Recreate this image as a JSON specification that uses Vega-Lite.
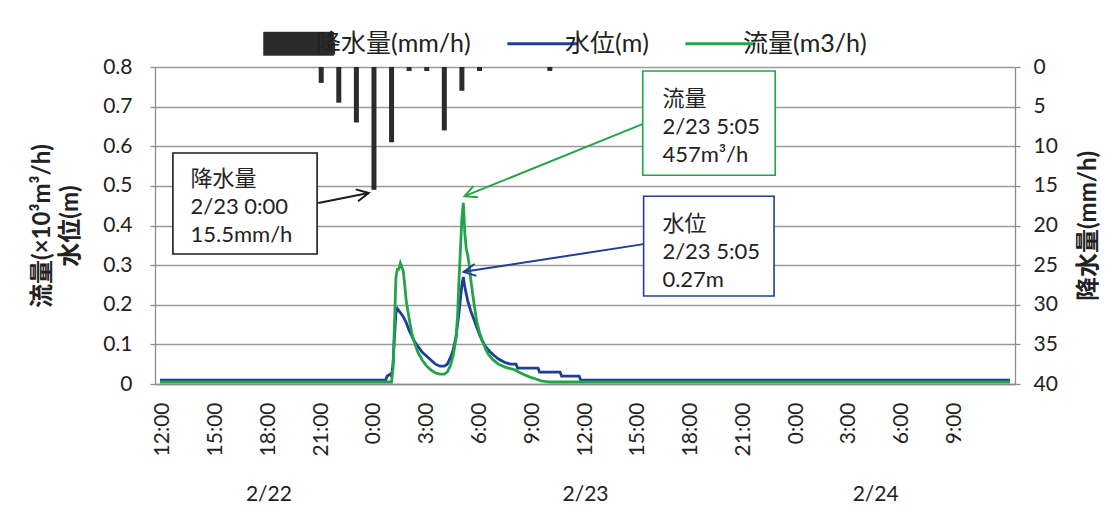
{
  "$schema": "https://vega.github.io/schema/vega-lite/v6.json",
  "width": 860,
  "height": 317,
  "autosize": {"type": "none"},
  "padding": {"left": 155, "top": 67, "right": 93, "bottom": 125},
  "background": "white",
  "config": {
    "view": {"stroke": null},
    "font": "Lato, 'Noto Sans CJK JP', sans-serif",
    "axis": {
      "labelFont": "Lato, 'Noto Sans CJK JP', sans-serif",
      "labelFontSize": 21,
      "labelColor": "#222222",
      "titleFont": "Lato, 'Noto Sans CJK JP', sans-serif",
      "titleFontSize": 24,
      "titleColor": "#222222",
      "domainColor": "#8c8c8c",
      "domainWidth": 1.3,
      "tickColor": "#8c8c8c",
      "tickWidth": 1.3,
      "gridColor": "#9a9a9a",
      "gridWidth": 1.3,
      "labelFlush": false,
      "labelOverlap": false,
      "labelBound": false
    },
    "text": {"font": "Lato, 'Noto Sans CJK JP', sans-serif"}
  },
  "datasets": {
    "rain": [
      {"t": "2020-02-22T21:00", "series": "降水量(mm/h)", "mm": 2},
      {"t": "2020-02-22T22:00", "series": "降水量(mm/h)", "mm": 4.5},
      {"t": "2020-02-22T23:00", "series": "降水量(mm/h)", "mm": 7},
      {"t": "2020-02-23T00:00", "series": "降水量(mm/h)", "mm": 15.5},
      {"t": "2020-02-23T01:00", "series": "降水量(mm/h)", "mm": 9.5},
      {"t": "2020-02-23T02:00", "series": "降水量(mm/h)", "mm": 0.5},
      {"t": "2020-02-23T03:00", "series": "降水量(mm/h)", "mm": 0.5},
      {"t": "2020-02-23T04:00", "series": "降水量(mm/h)", "mm": 8},
      {"t": "2020-02-23T05:00", "series": "降水量(mm/h)", "mm": 3},
      {"t": "2020-02-23T06:00", "series": "降水量(mm/h)", "mm": 0.5},
      {"t": "2020-02-23T10:00", "series": "降水量(mm/h)", "mm": 0.5}
    ],
    "hydro": [
      {"t": "2020-02-22T11:50", "series": "水位(m)", "v": 0.01},
      {"t": "2020-02-23T00:40", "series": "水位(m)", "v": 0.01},
      {"t": "2020-02-23T00:45", "series": "水位(m)", "v": 0.02},
      {"t": "2020-02-23T00:55", "series": "水位(m)", "v": 0.025},
      {"t": "2020-02-23T01:00", "series": "水位(m)", "v": 0.02},
      {"t": "2020-02-23T01:05", "series": "水位(m)", "v": 0.05},
      {"t": "2020-02-23T01:10", "series": "水位(m)", "v": 0.12},
      {"t": "2020-02-23T01:15", "series": "水位(m)", "v": 0.18},
      {"t": "2020-02-23T01:20", "series": "水位(m)", "v": 0.19},
      {"t": "2020-02-23T01:30", "series": "水位(m)", "v": 0.18},
      {"t": "2020-02-23T01:40", "series": "水位(m)", "v": 0.17},
      {"t": "2020-02-23T01:50", "series": "水位(m)", "v": 0.155},
      {"t": "2020-02-23T02:00", "series": "水位(m)", "v": 0.135},
      {"t": "2020-02-23T02:10", "series": "水位(m)", "v": 0.12},
      {"t": "2020-02-23T02:20", "series": "水位(m)", "v": 0.105},
      {"t": "2020-02-23T02:30", "series": "水位(m)", "v": 0.095},
      {"t": "2020-02-23T02:45", "series": "水位(m)", "v": 0.08},
      {"t": "2020-02-23T03:00", "series": "水位(m)", "v": 0.07},
      {"t": "2020-02-23T03:15", "series": "水位(m)", "v": 0.06},
      {"t": "2020-02-23T03:30", "series": "水位(m)", "v": 0.05},
      {"t": "2020-02-23T03:45", "series": "水位(m)", "v": 0.045},
      {"t": "2020-02-23T04:00", "series": "水位(m)", "v": 0.045},
      {"t": "2020-02-23T04:10", "series": "水位(m)", "v": 0.05},
      {"t": "2020-02-23T04:20", "series": "水位(m)", "v": 0.065},
      {"t": "2020-02-23T04:30", "series": "水位(m)", "v": 0.085},
      {"t": "2020-02-23T04:40", "series": "水位(m)", "v": 0.12},
      {"t": "2020-02-23T04:50", "series": "水位(m)", "v": 0.18},
      {"t": "2020-02-23T05:00", "series": "水位(m)", "v": 0.25},
      {"t": "2020-02-23T05:05", "series": "水位(m)", "v": 0.27},
      {"t": "2020-02-23T05:10", "series": "水位(m)", "v": 0.245},
      {"t": "2020-02-23T05:20", "series": "水位(m)", "v": 0.21},
      {"t": "2020-02-23T05:30", "series": "水位(m)", "v": 0.185},
      {"t": "2020-02-23T05:40", "series": "水位(m)", "v": 0.165},
      {"t": "2020-02-23T05:50", "series": "水位(m)", "v": 0.145},
      {"t": "2020-02-23T06:00", "series": "水位(m)", "v": 0.125},
      {"t": "2020-02-23T06:10", "series": "水位(m)", "v": 0.108},
      {"t": "2020-02-23T06:20", "series": "水位(m)", "v": 0.095},
      {"t": "2020-02-23T06:35", "series": "水位(m)", "v": 0.082},
      {"t": "2020-02-23T06:50", "series": "水位(m)", "v": 0.072},
      {"t": "2020-02-23T07:05", "series": "水位(m)", "v": 0.063},
      {"t": "2020-02-23T07:25", "series": "水位(m)", "v": 0.055},
      {"t": "2020-02-23T07:45", "series": "水位(m)", "v": 0.05},
      {"t": "2020-02-23T08:05", "series": "水位(m)", "v": 0.05},
      {"t": "2020-02-23T08:10", "series": "水位(m)", "v": 0.04},
      {"t": "2020-02-23T09:20", "series": "水位(m)", "v": 0.04},
      {"t": "2020-02-23T09:25", "series": "水位(m)", "v": 0.03},
      {"t": "2020-02-23T10:35", "series": "水位(m)", "v": 0.03},
      {"t": "2020-02-23T10:40", "series": "水位(m)", "v": 0.02},
      {"t": "2020-02-23T11:40", "series": "水位(m)", "v": 0.02},
      {"t": "2020-02-23T11:45", "series": "水位(m)", "v": 0.01},
      {"t": "2020-02-24T12:10", "series": "水位(m)", "v": 0.01},
      {"t": "2020-02-22T11:50", "series": "流量(m3/h)", "v": 0.005},
      {"t": "2020-02-23T01:00", "series": "流量(m3/h)", "v": 0.005},
      {"t": "2020-02-23T01:05", "series": "流量(m3/h)", "v": 0.04},
      {"t": "2020-02-23T01:10", "series": "流量(m3/h)", "v": 0.15},
      {"t": "2020-02-23T01:15", "series": "流量(m3/h)", "v": 0.27},
      {"t": "2020-02-23T01:20", "series": "流量(m3/h)", "v": 0.29},
      {"t": "2020-02-23T01:25", "series": "流量(m3/h)", "v": 0.29},
      {"t": "2020-02-23T01:30", "series": "流量(m3/h)", "v": 0.305},
      {"t": "2020-02-23T01:35", "series": "流量(m3/h)", "v": 0.295},
      {"t": "2020-02-23T01:40", "series": "流量(m3/h)", "v": 0.285},
      {"t": "2020-02-23T01:45", "series": "流量(m3/h)", "v": 0.25},
      {"t": "2020-02-23T01:50", "series": "流量(m3/h)", "v": 0.21},
      {"t": "2020-02-23T02:00", "series": "流量(m3/h)", "v": 0.165},
      {"t": "2020-02-23T02:10", "series": "流量(m3/h)", "v": 0.125},
      {"t": "2020-02-23T02:20", "series": "流量(m3/h)", "v": 0.1},
      {"t": "2020-02-23T02:30", "series": "流量(m3/h)", "v": 0.08},
      {"t": "2020-02-23T02:45", "series": "流量(m3/h)", "v": 0.06},
      {"t": "2020-02-23T03:00", "series": "流量(m3/h)", "v": 0.045},
      {"t": "2020-02-23T03:15", "series": "流量(m3/h)", "v": 0.035},
      {"t": "2020-02-23T03:30", "series": "流量(m3/h)", "v": 0.028},
      {"t": "2020-02-23T03:45", "series": "流量(m3/h)", "v": 0.025},
      {"t": "2020-02-23T04:00", "series": "流量(m3/h)", "v": 0.025},
      {"t": "2020-02-23T04:10", "series": "流量(m3/h)", "v": 0.03},
      {"t": "2020-02-23T04:20", "series": "流量(m3/h)", "v": 0.045},
      {"t": "2020-02-23T04:30", "series": "流量(m3/h)", "v": 0.07},
      {"t": "2020-02-23T04:40", "series": "流量(m3/h)", "v": 0.115},
      {"t": "2020-02-23T04:45", "series": "流量(m3/h)", "v": 0.17},
      {"t": "2020-02-23T04:50", "series": "流量(m3/h)", "v": 0.26},
      {"t": "2020-02-23T04:55", "series": "流量(m3/h)", "v": 0.34},
      {"t": "2020-02-23T05:00", "series": "流量(m3/h)", "v": 0.42},
      {"t": "2020-02-23T05:05", "series": "流量(m3/h)", "v": 0.457},
      {"t": "2020-02-23T05:10", "series": "流量(m3/h)", "v": 0.38},
      {"t": "2020-02-23T05:15", "series": "流量(m3/h)", "v": 0.34},
      {"t": "2020-02-23T05:20", "series": "流量(m3/h)", "v": 0.325},
      {"t": "2020-02-23T05:25", "series": "流量(m3/h)", "v": 0.3},
      {"t": "2020-02-23T05:30", "series": "流量(m3/h)", "v": 0.265},
      {"t": "2020-02-23T05:40", "series": "流量(m3/h)", "v": 0.21},
      {"t": "2020-02-23T05:50", "series": "流量(m3/h)", "v": 0.16},
      {"t": "2020-02-23T06:00", "series": "流量(m3/h)", "v": 0.13},
      {"t": "2020-02-23T06:10", "series": "流量(m3/h)", "v": 0.11},
      {"t": "2020-02-23T06:20", "series": "流量(m3/h)", "v": 0.09},
      {"t": "2020-02-23T06:30", "series": "流量(m3/h)", "v": 0.075},
      {"t": "2020-02-23T06:45", "series": "流量(m3/h)", "v": 0.062},
      {"t": "2020-02-23T07:05", "series": "流量(m3/h)", "v": 0.05},
      {"t": "2020-02-23T07:30", "series": "流量(m3/h)", "v": 0.042},
      {"t": "2020-02-23T08:00", "series": "流量(m3/h)", "v": 0.036},
      {"t": "2020-02-23T08:20", "series": "流量(m3/h)", "v": 0.028},
      {"t": "2020-02-23T08:50", "series": "流量(m3/h)", "v": 0.018},
      {"t": "2020-02-23T09:15", "series": "流量(m3/h)", "v": 0.012},
      {"t": "2020-02-23T09:30", "series": "流量(m3/h)", "v": 0.008},
      {"t": "2020-02-23T10:00", "series": "流量(m3/h)", "v": 0.005},
      {"t": "2020-02-24T12:10", "series": "流量(m3/h)", "v": 0.005}
    ],
    "boxes": [
      {"id": "rain", "t1": "2020-02-22T12:34", "t2": "2020-02-22T20:46", "v1": 0.583, "v2": 0.328},
      {"id": "flow", "t1": "2020-02-23T15:17", "t2": "2020-02-23T22:49", "v1": 0.79, "v2": 0.527},
      {"id": "level", "t1": "2020-02-23T15:20", "t2": "2020-02-23T22:45", "v1": 0.474, "v2": 0.222}
    ],
    "notes": [
      {"id": "rain", "t": "2020-02-22T13:34", "v": 0.5, "txt": "降水量\n2/23 0:00\n15.5mm/h"},
      {"id": "flow", "t": "2020-02-23T16:24", "v": 0.702, "txt": "流量\n2/23 5:05\n457m³/h"},
      {"id": "level", "t": "2020-02-23T16:24", "v": 0.386, "txt": "水位\n2/23 5:05\n0.27m"}
    ],
    "arrows": [
      {"id": "rain", "t1": "2020-02-22T20:50", "v1": 0.457, "t2": "2020-02-22T23:42", "v2": 0.482},
      {"id": "flow", "t1": "2020-02-23T15:16", "v1": 0.656, "t2": "2020-02-23T05:09", "v2": 0.474},
      {"id": "level", "t1": "2020-02-23T15:20", "v1": 0.353, "t2": "2020-02-23T05:06", "v2": 0.283}
    ]
  },
  "layer": [
    {
      "data": {"name": "rain"},
      "mark": {"type": "bar", "size": 5},
      "encoding": {
        "x": {
          "field": "t", "type": "temporal",
          "scale": {"domain": [{"year": 2020, "month": 2, "date": 22, "hours": 11, "minutes": 50}, {"year": 2020, "month": 2, "date": 24, "hours": 12, "minutes": 10}], "nice": false},
          "axis": {
            "orient": "bottom",
            "values": [
              {"year": 2020, "month": 2, "date": 22, "hours": 12},
              {"year": 2020, "month": 2, "date": 22, "hours": 15},
              {"year": 2020, "month": 2, "date": 22, "hours": 18},
              {"year": 2020, "month": 2, "date": 22, "hours": 21},
              {"year": 2020, "month": 2, "date": 23, "hours": 0},
              {"year": 2020, "month": 2, "date": 23, "hours": 3},
              {"year": 2020, "month": 2, "date": 23, "hours": 6},
              {"year": 2020, "month": 2, "date": 23, "hours": 9},
              {"year": 2020, "month": 2, "date": 23, "hours": 12},
              {"year": 2020, "month": 2, "date": 23, "hours": 15},
              {"year": 2020, "month": 2, "date": 23, "hours": 18},
              {"year": 2020, "month": 2, "date": 23, "hours": 21},
              {"year": 2020, "month": 2, "date": 24, "hours": 0},
              {"year": 2020, "month": 2, "date": 24, "hours": 3},
              {"year": 2020, "month": 2, "date": 24, "hours": 6},
              {"year": 2020, "month": 2, "date": 24, "hours": 9}
            ],
            "tickCount": 40,
            "format": "%-H:%M",
            "labelAngle": -90,
            "ticks": false,
            "labelPadding": 18,
            "grid": false,
            "title": null
          }
        },
        "y": {
          "field": "mm", "type": "quantitative",
          "scale": {"domain": [0, 40], "reverse": true, "nice": false},
          "axis": {
            "orient": "right",
            "values": [0, 5, 10, 15, 20, 25, 30, 35, 40],
            "tickCount": 20,
            "grid": false,
            "title": "降水量(mm/h)",
            "titleAngle": 270,
            "titleBaseline": "top",
            "titlePadding": 19,
            "titleFontWeight": "bold",
            "labelPadding": 13,
            "tickSize": 5
          }
        },
        "color": {
          "field": "series", "type": "nominal",
          "scale": {"domain": ["降水量(mm/h)", "水位(m)", "流量(m3/h)"], "range": ["#2b2b2b", "#1d3f98", "#22a449"]},
          "legend": {
            "orient": "none",
            "legendX": 132,
            "legendY": -36,
            "direction": "horizontal",
            "title": null,
            "symbolSize": 4700,
            "labelFontSize": 25,
            "labelFont": "Lato, 'Noto Sans CJK JP', sans-serif",
            "labelColor": "#222222",
            "labelOffset": 4,
            "columnPadding": 30,
            "encode": {
              "symbols": {
                "update": {
                  "shape": {"signal": "datum.value === '降水量(mm/h)' ? 'M-1.05,-0.34H1V0.34H-1.05Z' : 'M-1.2,0H0.85'"},
                  "fill": {"signal": "datum.value === '降水量(mm/h)' ? '#2b2b2b' : 'transparent'"},
                  "stroke": {"signal": "datum.value === '降水量(mm/h)' ? '#2b2b2b' : (datum.value === '水位(m)' ? '#1d3f98' : '#22a449')"},
                  "strokeWidth": {"signal": "datum.value === '降水量(mm/h)' ? 0.5 : 3"},
                  "opacity": {"value": 1}
                }
              }
            }
          }
        }
      }
    },
    {
      "layer": [
        {
          "data": {"name": "hydro"},
          "transform": [{"filter": "datum.series === '水位(m)'"}],
          "mark": {"type": "line", "strokeWidth": 2.8},
          "encoding": {
            "x": {
              "field": "t", "type": "temporal",
              "scale": {"nice": false},
              "axis": {
                "orient": "bottom",
                "values": [
                  {"year": 2020, "month": 2, "date": 22, "hours": 18},
                  {"year": 2020, "month": 2, "date": 23, "hours": 12},
                  {"year": 2020, "month": 2, "date": 24, "hours": 4, "minutes": 30}
                ],
                "tickCount": 40,
                "format": "%-m/%-d",
                "offset": 95,
                "ticks": false,
                "domain": false,
                "grid": false,
                "title": null,
                "labelAngle": 0,
                "labelPadding": 4
              }
            },
            "y": {
              "field": "v", "type": "quantitative",
              "scale": {"domain": [0, 0.8], "nice": false},
              "axis": {
                "values": [0, 0.1, 0.2, 0.3, 0.4, 0.5, 0.6, 0.7, 0.8],
                "tickCount": 20,
                "format": ".1~f",
                "grid": true,
                "title": ["流量(×10³m³/h)", "水位(m)"],
                "titleFontWeight": "bold",
                "titlePadding": 20,
                "titleLineHeight": 28,
                "labelPadding": 18,
                "tickSize": 5
              }
            },
            "color": {"field": "series", "type": "nominal"}
          }
        },
        {
          "data": {"name": "hydro"},
          "transform": [{"filter": "datum.series === '流量(m3/h)'"}],
          "mark": {"type": "line", "strokeWidth": 2.8},
          "encoding": {
            "x": {"field": "t", "type": "temporal"},
            "y": {"field": "v", "type": "quantitative"},
            "color": {"field": "series", "type": "nominal"}
          }
        },
        {
          "data": {"name": "boxes"},
          "mark": {"type": "rect", "fill": "white", "strokeWidth": 1.6},
          "encoding": {
            "x": {"field": "t1", "type": "temporal"},
            "x2": {"field": "t2"},
            "y": {"field": "v1", "type": "quantitative"},
            "y2": {"field": "v2"},
            "stroke": {"field": "id", "type": "nominal", "scale": {"domain": ["rain", "flow", "level"], "range": ["#1a1a1a", "#22a449", "#1d3f98"]}, "legend": null}
          }
        },
        {
          "data": {"name": "notes"},
          "mark": {"type": "text", "align": "left", "baseline": "alphabetic", "lineBreak": "\n", "lineHeight": 28, "fontSize": 22, "color": "#222222"},
          "encoding": {
            "x": {"field": "t", "type": "temporal"},
            "y": {"field": "v", "type": "quantitative"},
            "text": {"field": "txt"}
          }
        },
        {
          "data": {"name": "arrows"},
          "mark": {"type": "rule", "strokeWidth": 2},
          "encoding": {
            "x": {"field": "t1", "type": "temporal"},
            "x2": {"field": "t2"},
            "y": {"field": "v1", "type": "quantitative"},
            "y2": {"field": "v2"},
            "stroke": {"field": "id", "type": "nominal", "legend": null}
          }
        },
        {
          "data": {"name": "arrows"},
          "mark": {"type": "point", "shape": "M-1,-0.5L0,0L-1,0.5", "filled": false, "size": 576, "strokeWidth": 2, "opacity": 1},
          "encoding": {
            "x": {"field": "t2", "type": "temporal"},
            "y": {"field": "v2", "type": "quantitative"},
            "stroke": {"field": "id", "type": "nominal", "legend": null},
            "angle": {"condition": [{"test": "datum.id === 'rain'", "value": 349}, {"test": "datum.id === 'flow'", "value": 158}], "value": 171}
          }
        }
      ]
    }
  ],
  "resolve": {"scale": {"y": "independent"}, "axis": {"x": "independent"}}
}
